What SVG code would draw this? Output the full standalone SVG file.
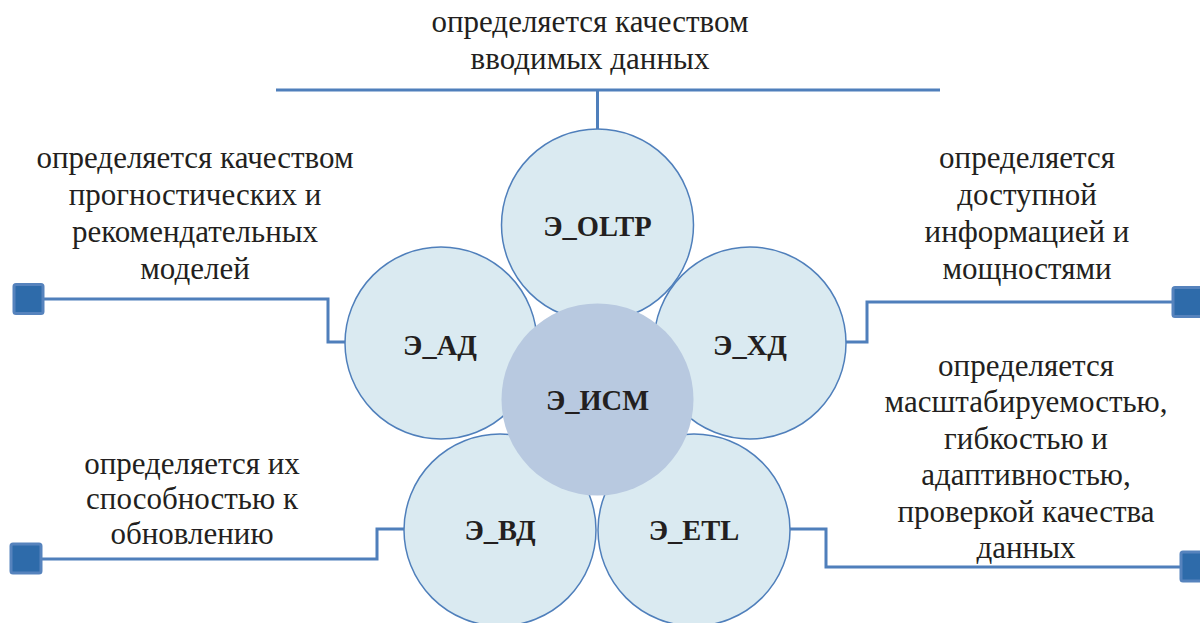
<svg xmlns="http://www.w3.org/2000/svg" width="1200" height="623" viewBox="0 0 1200 623">
<style>
.txt{font-family:"Liberation Serif","Times New Roman",serif;font-size:31px;fill:#231f20;text-anchor:middle}
.lbl{font-family:"Liberation Serif","Times New Roman",serif;font-size:28.5px;font-weight:bold;fill:#231f20;text-anchor:middle}
.cf{fill:#daeaf1;stroke:none}
.ring{fill:none;stroke:#4f7fbb;stroke-width:1.5}
.con{fill:none;stroke:#4f7fbb;stroke-width:3}
.sq{fill:#2e6baa;stroke:#5683bd;stroke-width:3}
</style>
<rect width="1200" height="623" fill="#ffffff"/>
<g id="connectors">
<path class="con" d="M276 90 H940 M597.5 90 V129"/>
<path class="con" d="M44 299 H328 V342 H346"/>
<path class="con" d="M1172 302 H867 V342 H846"/>
<path class="con" d="M42 559 H377 V529 H405"/>
<path class="con" d="M790 529 H826 V567 H1181"/>
<rect class="sq" x="14" y="284.5" width="29" height="29" rx="2"/>
<rect class="sq" x="1173" y="287.5" width="29" height="29" rx="2"/>
<rect class="sq" x="11" y="544" width="30" height="29" rx="2"/>
<rect class="sq" x="1181" y="552" width="29" height="29" rx="2"/>
</g>
<g id="circle-fills">
<circle class="cf" cx="597.5" cy="225" r="96"/>
<circle class="cf" cx="441" cy="343" r="96"/>
<circle class="cf" cx="750" cy="343" r="96"/>
<circle class="cf" cx="500" cy="530" r="96"/>
<circle class="cf" cx="694" cy="530" r="96"/>
</g>
<g id="circle-rings">
<circle class="ring" cx="597.5" cy="225" r="96"/>
<circle class="ring" cx="441" cy="343" r="96"/>
<circle class="ring" cx="750" cy="343" r="96"/>
<circle class="ring" cx="500" cy="530" r="96"/>
<circle class="ring" cx="694" cy="530" r="96"/>
</g>
<g id="node-oltp"><text class="lbl" x="597.5" y="236">Э_OLTP</text></g>
<g id="node-ad"><text class="lbl" x="440" y="355">Э_АД</text></g>
<g id="node-hd"><text class="lbl" x="750" y="355">Э_ХД</text></g>
<g id="node-vd"><text class="lbl" x="500" y="540">Э_ВД</text></g>
<g id="node-etl"><text class="lbl" x="694" y="540">Э_ETL</text></g>
<g id="node-ism">
<circle cx="597.5" cy="399.5" r="96" fill="#b8c9e0"/>
<text class="lbl" x="597.5" y="410">Э_ИСМ</text>
</g>
<g id="label-top">
<text class="txt" x="590" y="32">определяется качеством</text>
<text class="txt" x="590" y="69">вводимых данных</text>
</g>
<g id="label-left-top">
<text class="txt" x="195" y="168">определяется качеством</text>
<text class="txt" x="195" y="205">прогностических и</text>
<text class="txt" x="195" y="242">рекомендательных</text>
<text class="txt" x="195" y="279">моделей</text>
</g>
<g id="label-right-top">
<text class="txt" x="1027" y="168">определяется</text>
<text class="txt" x="1027" y="205">доступной</text>
<text class="txt" x="1027" y="242">информацией и</text>
<text class="txt" x="1027" y="279">мощностями</text>
</g>
<g id="label-left-bottom">
<text class="txt" x="192" y="474">определяется их</text>
<text class="txt" x="192" y="509">способностью к</text>
<text class="txt" x="192" y="544">обновлению</text>
</g>
<g id="label-right-bottom">
<text class="txt" x="1026" y="376">определяется</text>
<text class="txt" x="1026" y="412">масштабируемостью,</text>
<text class="txt" x="1026" y="449">гибкостью и</text>
<text class="txt" x="1026" y="485">адаптивностью,</text>
<text class="txt" x="1026" y="522">проверкой качества</text>
<text class="txt" x="1026" y="558">данных</text>
</g>
</svg>
